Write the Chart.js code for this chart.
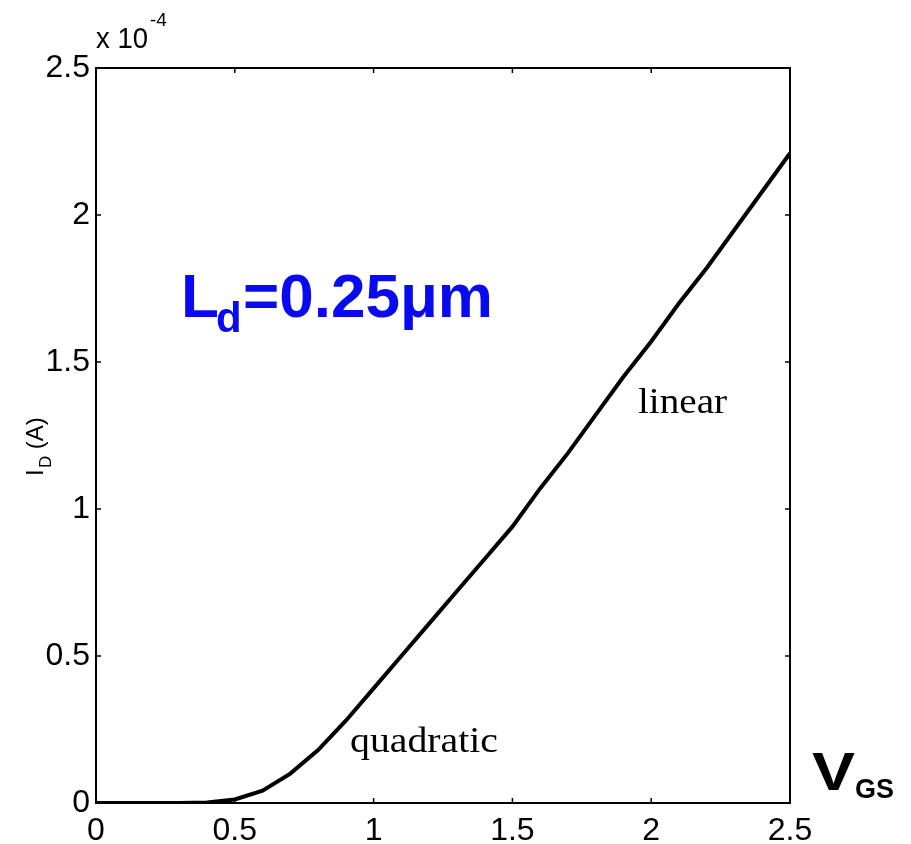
<!DOCTYPE html>
<html>
<head>
<meta charset="utf-8">
<script src="https://cdn.jsdelivr.net/npm/chart.js@4/dist/chart.umd.min.js"></script>
<style>
  body { margin: 0; background: #fff; }
  #wrap { width: 911px; height: 844px; }
</style>
</head>
<body>
<div id="wrap"><canvas id="chart" width="911" height="844"></canvas></div>
<script>
// V_GS (V) and I_D (A)
const vgs = [0, 0.1, 0.2, 0.3, 0.4, 0.5, 0.6, 0.7, 0.8, 0.9, 1.0, 1.1, 1.2, 1.3,
             1.4, 1.5, 1.6, 1.7, 1.8, 1.9, 2.0, 2.1, 2.2, 2.3, 2.4, 2.5];
const idA = [0, 0, 0, 0, 0.002e-4, 0.012e-4, 0.042e-4, 0.10e-4, 0.18e-4, 0.28e-4,
             0.39e-4, 0.50e-4, 0.61e-4, 0.72e-4, 0.83e-4, 0.94e-4, 1.07e-4, 1.19e-4,
             1.32e-4, 1.45e-4, 1.57e-4, 1.70e-4, 1.82e-4, 1.95e-4, 2.08e-4, 2.21e-4];
const xTicks = [0, 0.5, 1, 1.5, 2, 2.5];
const yTicks = [0, 0.5e-4, 1e-4, 1.5e-4, 2e-4, 2.5e-4];

const sans = '"Liberation Sans", Arial, Helvetica, sans-serif';
const serif = '"Liberation Serif", "Times New Roman", serif';

// draw text stretched to a given width
function fitText(c, txt, x, y, w) {
  const m = c.measureText(txt).width;
  c.save();
  c.translate(x, y);
  c.scale(w / m, 1);
  c.fillText(txt, 0, 0);
  c.restore();
}

// box, inward ticks and text annotations
const extras = {
  id: 'extras',
  afterDraw(chart) {
    const c = chart.ctx, a = chart.chartArea;
    const xs = chart.scales.x, ys = chart.scales.y;
    c.save();
    c.strokeStyle = '#000';
    c.lineWidth = 2;
    c.strokeRect(a.left, a.top, a.right - a.left, a.bottom - a.top);
    c.lineWidth = 1.5;
    c.beginPath();
    xTicks.forEach(v => {
      const px = xs.getPixelForValue(v);
      c.moveTo(px, a.bottom); c.lineTo(px, a.bottom - 5);
      c.moveTo(px, a.top); c.lineTo(px, a.top + 5);
    });
    yTicks.forEach(v => {
      const py = ys.getPixelForValue(v);
      c.moveTo(a.left, py); c.lineTo(a.left + 5, py);
      c.moveTo(a.right, py); c.lineTo(a.right - 5, py);
    });
    c.stroke();

    c.fillStyle = '#000';
    c.textBaseline = 'alphabetic';
    c.textAlign = 'left';
    // exponent
    c.font = '30px ' + sans;
    fitText(c, 'x 10', 96, 48, 52);
    c.font = '19px ' + sans;
    c.fillText('-4', 150, 26);

    // y title
    c.save();
    c.translate(43, 476);
    c.rotate(-Math.PI / 2);
    c.font = '24px ' + sans;
    c.fillText('I', 0, 0);
    c.font = '17px ' + sans;
    c.fillText('D', 8, 8);
    c.font = '24px ' + sans;
    c.fillText(' (A)', 20, 0);
    c.restore();

    // V_GS
    c.font = 'bold 53px ' + sans;
    fitText(c, 'V', 812, 790, 43);
    c.font = 'bold 27px ' + sans;
    c.fillText('GS', 855, 798);

    // serif labels
    c.font = '35px ' + serif;
    fitText(c, 'quadratic', 350, 752, 148);
    fitText(c, 'linear', 638, 413, 89);

    // L_d label
    c.fillStyle = '#0a0af0';
    c.font = 'bold 62px ' + sans;
    c.fillText('L', 181, 317);
    c.font = 'bold 42px ' + sans;
    c.fillText('d', 216, 332);
    c.font = 'bold 62px ' + sans;
    fitText(c, '=0.25\u03bcm', 243, 317, 250);
    c.restore();
  }
};

new Chart(document.getElementById('chart').getContext('2d'), {
  type: 'line',
  data: {
    datasets: [{
      data: vgs.map((v, i) => ({ x: v, y: idA[i] })),
      borderColor: '#000',
      borderWidth: 4,
      pointRadius: 0,
      tension: 0,
      fill: false
    }]
  },
  options: {
    responsive: false,
    animation: false,
    layout: { padding: { top: 68, right: 121, left: 0, bottom: 0 } },
    plugins: { legend: { display: false }, tooltip: { enabled: false } },
    scales: {
      x: {
        type: 'linear', min: 0, max: 2.5,
        afterBuildTicks: s => { s.ticks = xTicks.map(v => ({ value: v })); },
        afterFit: s => { s.height = 41; },
        grid: { display: false, drawTicks: false },
        border: { display: false },
        ticks: {
          padding: 9, color: '#000', maxRotation: 0,
          font: { family: sans, size: 32 },
          callback: v => String(v)
        }
      },
      y: {
        type: 'linear', min: 0, max: 2.5e-4,
        afterBuildTicks: s => { s.ticks = yTicks.map(v => ({ value: v })); },
        afterFit: s => { s.width = 96; },
        grid: { display: false, drawTicks: false },
        border: { display: false },
        ticks: {
          padding: 6, color: '#000',
          font: { family: sans, size: 32 },
          callback: v => String(Math.round(v * 1e5) / 10)
        }
      }
    }
  },
  plugins: [extras]
});
</script>
</body>
</html>
